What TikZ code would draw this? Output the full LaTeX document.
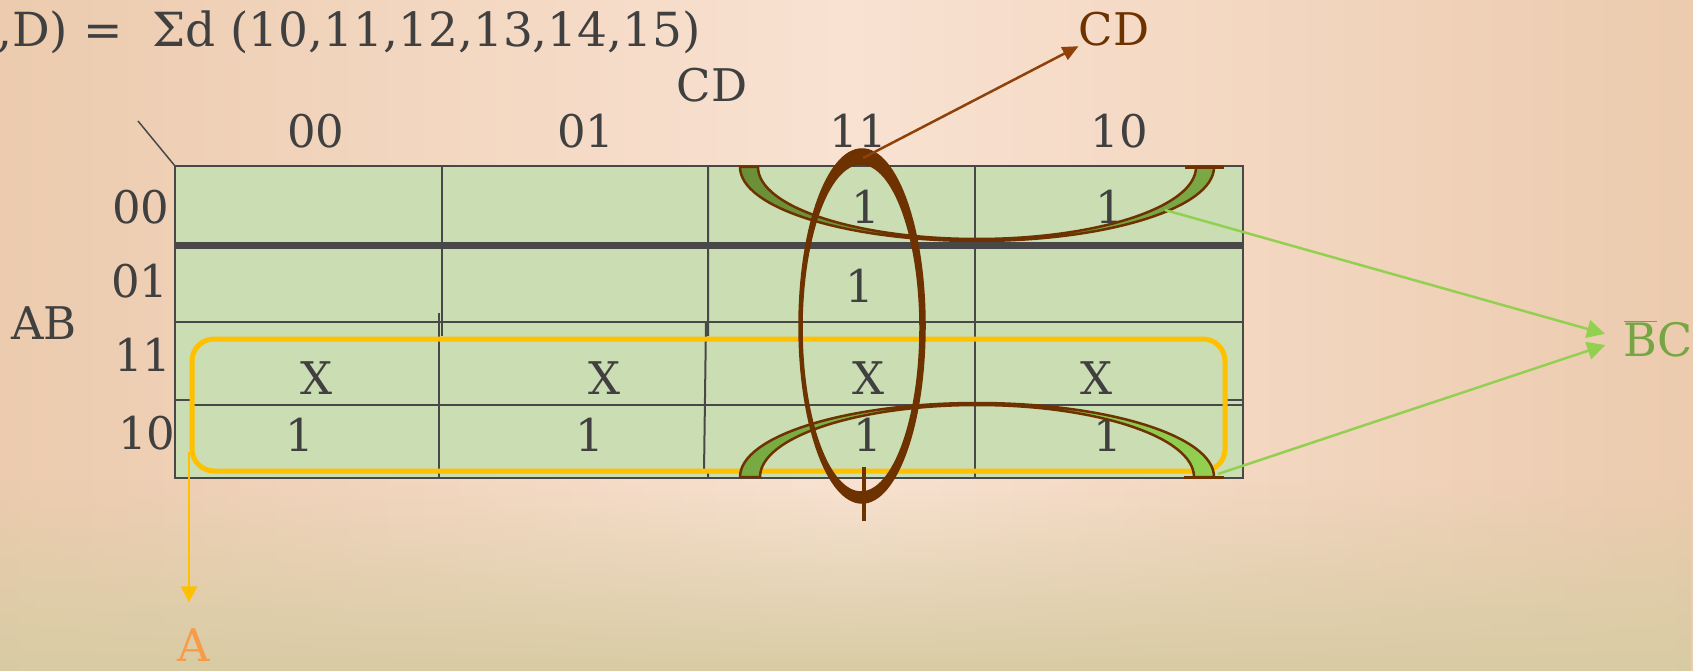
\documentclass[tikz,border=0pt]{standalone}
\usepackage{fontspec}
\setmainfont{DejaVu Serif}
\usepackage{xcolor}
\usetikzlibrary{arrows.meta}
\usetikzlibrary{fadings, math}

\definecolor{bgside}{HTML}{ECCBAE}
\definecolor{bgmid}{HTML}{F9E2D2}
\definecolor{bgtan}{HTML}{D8CCA4}
\definecolor{kgreen}{HTML}{CBDDB3}
\definecolor{kline}{HTML}{484848}
\definecolor{ktext}{HTML}{404040}
\definecolor{gold}{HTML}{FFC000}
\definecolor{rust}{HTML}{6E3100}
\definecolor{rustarrow}{HTML}{8E4108}
\definecolor{leaf}{HTML}{92D050}
\definecolor{olive}{HTML}{6B8F38}
\definecolor{moss}{HTML}{7BA845}
\definecolor{fern}{HTML}{76A942}
\definecolor{sage}{HTML}{76A543}
\definecolor{tangerine}{HTML}{F79B46}

\tikzset{
  lbl/.style={text=ktext, font=\fontsize{45}{54}\selectfont, inner sep=0pt},
  grid line/.style={kline, line width=2},
}

\begin{document}
\begin{tikzpicture}[x=1pt,y=-1pt]
\tikzmath{
\cx=977;
\ra=237;
\rb=74;
}
% background
\shade[left color=bgside,right color=bgside,middle color=bgmid] (0,0) rectangle (1693,671);
\fill[bgtan,path fading=north] (0,480) rectangle (1693,671);
\useasboundingbox (0,0) rectangle (1693,671);

% the map
\fill[kgreen] (175,166) rectangle (1243,478);
\draw[grid line] (441.5,166) -- (441.5,336) (439,313) -- (439,478);
\draw[grid line] (708,166) -- (708,336) (706,322) -- (704,472) (708,470) -- (708,478);
\draw[grid line] (975,166) -- (975,478);
\draw[grid line] (175,322) -- (1243,322);
\draw[grid line] (190,405) -- (1243,405) (175,400) -- (190,400) (1226,400) -- (1243,400);
\draw[kline,line width=2.5] (175,166) rectangle (1243,478);
\draw[kline,line width=7] (175,245) -- (1243,245);
\draw[kline,line width=1.5] (138,121) -- (175,166);

\draw[gold,line width=5,rounded corners=22] (192,339) rectangle (1225,471);

% labels
\node[lbl,font=\fontsize{47}{56}\selectfont,anchor=base west] (title) at (-3,47) {,D) =~~Σd (10,11,12,13,14,15)};
\node[lbl] (cd) at (712,85) {CD};
\node[lbl] (ab) at (44,323) {AB};
\node[lbl] (c00) at (316,131) {00};
\node[lbl] (c01) at (586,131) {01};
\node[lbl] (c11) at (858,131) {11};
\node[lbl] (c10) at (1119,131) {10};
\node[lbl] (r00) at (141,207) {00};
\node[lbl] (r01) at (140,281) {01};
\node[lbl] (r11) at (143,355) {11};
\node[lbl] (r10) at (147,433) {10};

\node[lbl] (m2) at (866,207) {1};
\node[lbl] (m3) at (1110,207) {1};
\node[lbl] (m6) at (860,286) {1};
\node[lbl] (x12) at (317,378) {X};
\node[lbl] (x13) at (605,378) {X};
\node[lbl] (x15) at (869,378) {X};
\node[lbl] (x14) at (1097,378) {X};
\node[lbl] (m8) at (300,435) {1};
\node[lbl] (m9) at (590,435) {1};
\node[lbl] (m11) at (868,435) {1};
\node[lbl] (m10) at (1108,435) {1};

% B'C loops
\shadedraw[left color=olive,right color=moss,draw=rust,line width=2.5]
  (\cx-\ra,167) arc[start angle=180,end angle=0,x radius=\ra,y radius=\rb]
  -- (\cx+219,167) arc[start angle=0,end angle=180,x radius=219,y radius=72] -- cycle;
\shadedraw[left color=fern,right color=leaf,draw=rust,line width=2.5]
  (\cx-\ra,477) arc[start angle=180,end angle=360,x radius=\ra,y radius=\rb]
  -- (\cx+217,477) arc[start angle=360,end angle=180,x radius=217,y radius=72] -- cycle;
\draw[rust,line width=3] (1185,168) -- (1224,168) (1184,477) -- (1224,477);

% CD loop
\filldraw[rust,even odd rule,line width=1.5] (862,326) ellipse[x radius=63,y radius=177]
  (861,328) ellipse[x radius=59,y radius=164];
\draw[rust,line width=4] (864,467) -- (864,521);

\coordinate (cdtop) at (863,158);
\coordinate (bctop) at (1165,210);
\coordinate (bcbot) at (1218,474);
\coordinate (astart) at (189,452);

% results
\node[text=rust,font=\fontsize{45}{54}\selectfont,inner sep=0pt] (cdlab) at (1114,29) {CD};
\node[text=sage,font=\fontsize{46}{54}\selectfont,inner sep=0pt] (bclab) at (1658,339) {$\overline{\mbox{B}}$C};
\node[text=tangerine,font=\fontsize{45}{54}\selectfont,inner sep=0pt] (alab) at (194,645) {A};

\draw[rustarrow,line width=2.5,-{Triangle[length=16pt,width=14pt]}] (cdtop) -- (cdlab.south west);
\draw[leaf,line width=2.5,-{Triangle[length=18pt,width=18pt]},shorten >=19pt] (bctop) -- (bclab.west);
\draw[leaf,line width=2.5,-{Triangle[length=18pt,width=18pt]},shorten >=19pt] (bcbot) -- (bclab.west);
\draw[gold,line width=2.5,-{Triangle[length=16pt,width=16pt]},shorten >=26pt] (astart) -- (astart |- alab.north);
\end{tikzpicture}
\end{document}
